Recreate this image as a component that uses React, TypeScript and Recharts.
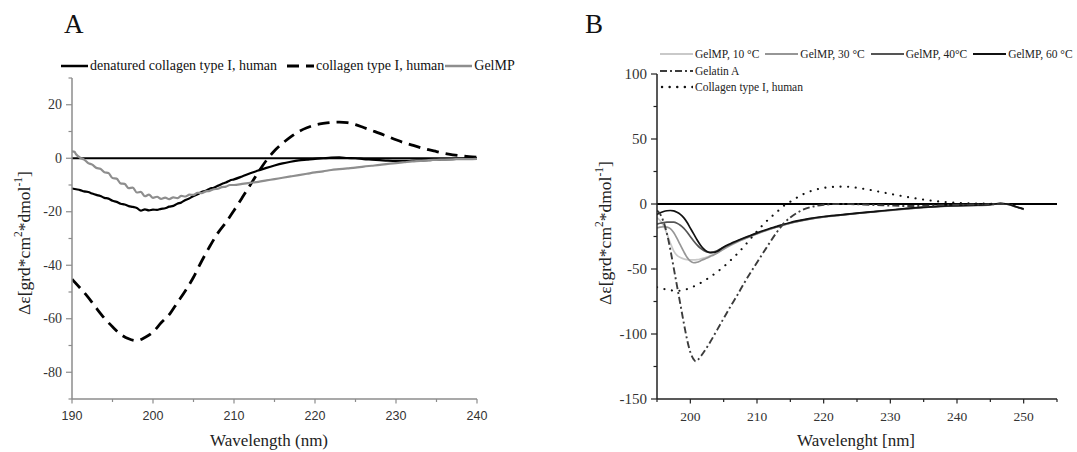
import React from 'react';
import { LineChart, Line, XAxis, YAxis, ReferenceLine, Legend, Label } from 'recharts';

const SERIF = "'Liberation Serif', 'Times New Roman', serif";
const SANS = "'Liberation Sans', Arial, sans-serif";

// ---------------- Panel A ----------------
const A_X_TICKS = [190, 195, 200, 205, 210, 215, 220, 225, 230, 235, 240];
const A_X_LABELS = [190, 200, 210, 220, 230, 240];
const A_Y_TICKS = [-90, -80, -70, -60, -50, -40, -30, -20, -10, 0, 10, 20, 30];
const A_Y_LABELS = [-80, -60, -40, -20, 0, 20];

const A_DENATURED: [number, number][] = [
  [190, -11.3], [190.5, -11.6], [191, -11.9], [191.5, -12.4], [192, -12.6], [192.5, -13.2], [193, -13.7],
  [193.5, -14.1], [194, -14.8], [194.5, -15.1], [195, -15.9], [195.5, -16.3], [196, -17.0], [196.5, -17.3],
  [197, -17.9], [197.5, -18.2], [198, -18.6], [198.5, -19.6], [199, -19.1], [199.5, -19.5], [200, -19.2],
  [200.5, -19.3], [201, -18.9], [201.5, -18.7], [202, -18.1], [202.5, -17.8], [203, -17.0], [203.5, -16.5],
  [204, -15.6], [204.5, -15.0], [205, -14.1], [205.5, -13.5], [206, -12.6], [206.5, -12.2], [207, -11.4],
  [207.5, -11.0], [208, -10.3], [208.5, -9.6], [209, -9.1], [209.5, -8.3], [210, -7.9], [211, -6.8],
  [212, -5.6], [213, -4.6], [214, -3.6], [215, -2.7], [216, -1.9], [217, -1.3], [218, -0.8], [219, -0.5],
  [220, -0.2], [221, 0], [222, 0.2], [223, 0.3], [224, 0.1], [225, 0], [226, -0.3], [227, -0.5], [228, -0.7],
  [229, -0.9], [230, -1.0], [231, -1.0], [232, -0.9], [233, -0.8], [234, -0.7], [235, -0.5], [236, -0.4],
  [237, -0.3], [238, -0.2], [239, -0.1], [240, 0],
];

const A_COLLAGEN: [number, number][] = [
  [190, -45.2], [191, -48.5], [192, -52], [193, -56], [194, -59.8], [195, -63], [196, -65.8], [197, -67.5],
  [198, -68.2], [199, -67], [200, -65], [201, -61.5], [202, -58.5], [203, -54], [204, -49.5], [205, -44.5],
  [206, -38.5], [207, -33], [208, -28], [209, -24], [210, -19.5], [211, -14.8], [212, -10], [213, -5.2],
  [214, -0.8], [215, 2.8], [216, 5.6], [217, 8], [218, 10], [219, 11.4], [220, 12.4], [221, 13], [222, 13.4],
  [223, 13.5], [224, 13.3], [225, 12.6], [226, 11.5], [227, 10.4], [228, 9.3], [229, 8.1], [230, 6.9],
  [231, 5.8], [232, 4.9], [233, 4], [234, 3.2], [235, 2.5], [236, 1.8], [237, 1.3], [238, 0.9], [239, 0.6],
  [240, 0.4],
];

const A_GELMP: [number, number][] = [
  [190, 2.6], [190.3, 2.4], [190.5, 1.5], [191, 0.2], [191.5, -0.5], [192, -1.8], [192.5, -2.4], [193, -3.6],
  [193.5, -3.9], [194, -5.2], [194.5, -5.5], [195, -7.4], [195.5, -7.6], [196, -9.4], [196.5, -9.6],
  [197, -11.2], [197.5, -11.0], [198, -12.8], [198.5, -12.6], [199, -14.2], [199.5, -13.6], [200, -14.8],
  [200.5, -14.4], [201, -15.2], [201.5, -14.7], [202, -15.3], [202.5, -14.6], [203, -14.9], [203.5, -14.1],
  [204, -14.3], [204.5, -13.6], [205, -13.7], [205.5, -12.9], [206, -13.0], [206.5, -12.4], [207, -12.2],
  [207.5, -11.6], [208, -11.4], [208.5, -10.8], [209, -10.6], [209.5, -10.0], [210, -10.0], [211, -9.6],
  [212, -9.2], [213, -8.8], [214, -8.3], [215, -7.8], [216, -7.3], [217, -6.8], [218, -6.3], [219, -5.8],
  [220, -5.3], [221, -4.9], [222, -4.4], [223, -4.1], [224, -3.8], [225, -3.5], [226, -3.1], [227, -2.8],
  [228, -2.5], [229, -2.1], [230, -1.8], [231, -1.5], [232, -1.2], [233, -1.0], [234, -0.7], [235, -0.6],
  [236, -0.5], [237, -0.4], [238, -0.3], [239, -0.3], [240, -0.2],
];

const A_NAMES = ['denatured collagen type I, human', 'collagen type I, human', 'GelMP'];

// ---------------- Panel B ----------------
const B_X_TICKS = [195, 200, 205, 210, 215, 220, 225, 230, 235, 240, 245, 250, 255];
const B_X_LABELS = [200, 210, 220, 230, 240, 250];
const B_Y_TICKS = [-150, -125, -100, -75, -50, -25, 0, 25, 50, 75, 100];
const B_Y_LABELS = [-150, -100, -50, 0, 50, 100];

const B_GELMP_10: [number, number][] = [
  [195, -10.5], [195.5, -13], [196, -17], [196.5, -23], [197, -30], [197.5, -36], [198, -39.5], [198.5, -41.2],
  [199, -42.2], [199.5, -42.8], [200, -43], [200.5, -43], [201, -42.8], [201.5, -42.3], [202, -41.6],
  [202.5, -40.8], [203, -39.8], [203.5, -38.8], [204, -37.6], [205, -34.8], [206, -32], [207, -29.4],
  [208, -27.1], [209, -25], [210, -23], [211, -21.1], [212, -19.3], [213, -17.7], [214, -16.2], [215, -14.8],
  [216, -13.6], [218, -11.6], [220, -10.1], [222.5, -8.6], [225, -7.3], [227.5, -6.1], [230, -4.9],
  [232.5, -3.7], [235, -2.7], [237.5, -1.9], [240, -1.4], [242.5, -1.1], [245, -0.6], [246.5, 0.3],
  [247.5, -0.2], [248.5, -1.6], [249.3, -3], [250, -4.1],
];

const B_GELMP_30: [number, number][] = [
  [195, -18.5], [195.5, -17.8], [196, -17.5], [196.5, -17.8], [197, -19], [197.5, -22], [198, -26.5],
  [198.5, -31.5], [199, -36.5], [199.5, -41], [200, -44], [200.5, -45.2], [201, -44.8], [201.5, -43.8],
  [202, -42.6], [202.5, -41.5], [203, -40.3], [203.5, -39.2], [204, -37.8], [205, -34.6], [206, -31.8],
  [207, -29.2], [208, -27], [209, -24.9], [210, -22.9], [211, -21], [212, -19.2], [213, -17.6], [214, -16.1],
  [215, -14.7], [216, -13.5], [218, -11.5], [220, -10], [222.5, -8.6], [225, -7.3], [227.5, -6.1], [230, -4.9],
  [232.5, -3.7], [235, -2.7], [237.5, -1.9], [240, -1.4], [242.5, -1.1], [245, -0.6], [246.5, 0.3],
  [247.5, -0.2], [248.5, -1.6], [249.3, -3], [250, -4.1],
];

const B_GELMP_40: [number, number][] = [
  [195, -15.5], [195.5, -14.8], [196, -14.3], [196.5, -14], [197, -13.9], [197.5, -14], [198, -14.8],
  [198.5, -16.3], [199, -18.5], [199.5, -21.5], [200, -25], [200.5, -28.5], [201, -31.5], [201.5, -34],
  [202, -35.8], [202.5, -36.9], [203, -37.2], [203.5, -36.8], [204, -35.9], [205, -33.4], [206, -30.9],
  [207, -28.6], [208, -26.5], [209, -24.6], [210, -22.6], [211, -20.8], [212, -19], [213, -17.5], [214, -16],
  [215, -14.6], [216, -13.4], [218, -11.4], [220, -9.9], [222.5, -8.5], [225, -7.2], [227.5, -6], [230, -4.8],
  [232.5, -3.6], [235, -2.6], [237.5, -1.8], [240, -1.3], [242.5, -1], [245, -0.5], [246.5, 0.4],
  [247.5, -0.1], [248.5, -1.5], [249.3, -2.9], [250, -4],
];

const B_GELMP_60: [number, number][] = [
  [195, -8], [195.5, -6.8], [196, -5.8], [196.5, -5.2], [197, -5], [197.5, -5.3], [198, -6.4], [198.5, -8],
  [199, -10.5], [199.5, -14], [200, -18.5], [200.5, -23], [201, -27.5], [201.5, -31.5], [202, -34.5],
  [202.5, -36.5], [203, -37.4], [203.5, -37.3], [204, -36.6], [205, -33], [206, -30.5], [207, -28.3],
  [208, -26.2], [209, -24.2], [210, -22.2], [211, -20.4], [212, -18.7], [213, -17.2], [214, -15.6],
  [215, -14.2], [216, -13], [218, -11], [220, -9.6], [222.5, -8.3], [225, -7], [227.5, -5.8], [230, -4.6],
  [232.5, -3.4], [235, -2.4], [237.5, -1.6], [240, -1.2], [242.5, -0.9], [245, -0.4], [246.5, 0.5],
  [247.5, 0], [248.5, -1.4], [249.3, -2.8], [250, -3.8],
];

const B_GELATIN_A: [number, number][] = [
  [195, -5], [195.5, -8], [196, -14], [196.5, -23], [197, -35], [197.5, -49], [198, -63], [198.5, -77],
  [199, -91], [199.5, -104], [200, -114], [200.5, -119.5], [200.8, -121], [201.2, -119.5], [202, -114],
  [203, -106], [204, -97], [205, -88], [206, -79], [207, -70.5], [208, -61.5], [209, -53], [210, -45],
  [211, -37], [212, -29], [213, -21.5], [214, -15], [215, -10.3], [216, -6.8], [217, -4.2], [218, -2.5],
  [219, -1.3], [220, -0.6], [221, -0.2], [222.5, 0], [224, -0.1], [226, -0.4], [228, -0.8], [230, -1.2],
  [232, -1.5], [234, -1.5], [236, -1.2], [238, -0.9], [240, -0.6], [242, -0.4], [244, -0.3], [246, -0.1],
  [247, 0],
];

const B_COLLAGEN: [number, number][] = [
  [195, -64], [196, -65.3], [197, -66.3], [198, -66.8], [199, -66.2], [200, -64.5], [201, -62.2],
  [202, -59.3], [203, -56], [204, -52.3], [205, -48.2], [206, -43.5], [207, -38.5], [208, -33], [209, -27],
  [210, -21], [211, -15.5], [212, -10.5], [213, -6], [214, -1.5], [215, 1.8], [216, 5], [217, 7.7],
  [218, 9.8], [219, 11.3], [220, 12.4], [221, 13], [222, 13.3], [223, 13.4], [224, 13.1], [225, 12.5],
  [226, 11.7], [227, 10.8], [228, 9.8], [229, 8.8], [230, 7.8], [231, 6.8], [232, 5.9], [233, 5],
  [234, 4.2], [235, 3.4], [236, 2.7], [237, 2.1], [238, 1.6], [239, 1.2], [240, 0.9], [242, 0.5],
  [244, 0.3], [246, 0.2],
];

const B_NAMES = ['GelMP, 10 °C', 'GelMP, 30 °C', 'GelMP, 40°C', 'GelMP, 60 °C', 'Gelatin A', 'Collagen type I, human'];

// ---------------- helpers ----------------
const toPoints = (arr: [number, number][]) => arr.map(([x, y]) => ({ x, y }));

const TS = 6;
const TM = 4;

type SeriesStyle = { color: string; width: number; dash?: string; cap?: 'round' | 'butt' };

const A_STYLES: SeriesStyle[] = [
  { color: '#000000', width: 2.2 },
  { color: '#000000', width: 2.8, dash: '12 7' },
  { color: '#8e8e8e', width: 2.2 },
];

const B_STYLES: SeriesStyle[] = [
  { color: '#c9c9c9', width: 1.7 },
  { color: '#969696', width: 1.7 },
  { color: '#555555', width: 1.7 },
  { color: '#111111', width: 1.7 },
  { color: '#3c3c3c', width: 1.9, dash: '7 3 2 3' },
  { color: '#111111', width: 2.1, dash: '0.1 7.5', cap: 'round' },
];

const serifStyle = (size: number) => ({ fontFamily: SERIF, fontSize: size });

function YTick(props: any) {
  const { x, y, payload, labels, axisColor, fontSize, textColor } = props;
  const ax = x + TS + TM;
  const major = labels.includes(payload.value);
  return (
    <g>
      <line x1={ax - (major ? 6 : 3.5)} x2={ax} y1={y} y2={y} stroke={axisColor} strokeWidth={1.2} />
      {major && (
        <text x={ax - 10} y={y} textAnchor="end" dominantBaseline="central" style={serifStyle(fontSize)} fill={textColor}>
          {String(payload.value)}
        </text>
      )}
    </g>
  );
}

function XTick(props: any) {
  const { x, y, payload, labels, axisColor, fontSize, textColor, font } = props;
  const ay = y - TS - TM;
  const major = labels.includes(payload.value);
  return (
    <g>
      <line x1={x} x2={x} y1={ay} y2={ay + (major ? 4.5 : 3)} stroke={axisColor} strokeWidth={1.2} />
      {major && (
        <text x={x} y={ay + 17} textAnchor="middle" dominantBaseline="central" style={{ fontFamily: font, fontSize }} fill={textColor}>
          {String(payload.value)}
        </text>
      )}
    </g>
  );
}

function YTitle({ cx, cy }: { cx: number; cy: number }) {
  return (
    <text
      x={cx}
      y={cy}
      transform={`rotate(-90 ${cx} ${cy})`}
      textAnchor="middle"
      dominantBaseline="central"
      style={serifStyle(17.5)}
      fill="#222"
    >
      Δε[grd*cm
      <tspan dy={-6} style={{ fontSize: 11.5 }}>2</tspan>
      <tspan dy={6}>*dmol</tspan>
      <tspan dy={-6} style={{ fontSize: 11.5 }}>-1</tspan>
      <tspan dy={6}>]</tspan>
    </text>
  );
}

function XTitle({ cx, cy, text }: { cx: number; cy: number; text: string }) {
  return (
    <text x={cx} y={cy} textAnchor="middle" dominantBaseline="central" style={serifStyle(17)} fill="#222">
      {text}
    </text>
  );
}

function LegendIcon({ s, w }: { s: SeriesStyle; w: number }) {
  return (
    <svg width={w} height={8} style={{ display: 'block' }}>
      <line
        x1={s.cap === 'round' ? 2 : 0}
        x2={w}
        y1={4}
        y2={4}
        stroke={s.color}
        strokeWidth={s.width + 0.3}
        strokeDasharray={s.dash}
        strokeLinecap={s.cap || 'butt'}
      />
    </svg>
  );
}

function LegendItem({ s, name, w, gap }: { s: SeriesStyle; name: string; w: number; gap: number }) {
  return (
    <span style={{ display: 'inline-flex', alignItems: 'center', marginRight: gap }}>
      <LegendIcon s={s} w={w} />
      <span style={{ marginLeft: 2 }}>{name}</span>
    </span>
  );
}

function LegendA() {
  return (
    <div style={{ display: 'flex', alignItems: 'center', fontFamily: SERIF, fontSize: 14, color: '#111', whiteSpace: 'nowrap', lineHeight: '18px' }}>
      {A_NAMES.map((n, i) => (
        <LegendItem key={n} s={A_STYLES[i]} name={n} w={27} gap={i === 0 ? 10 : 1} />
      ))}
    </div>
  );
}

function LegendB() {
  return (
    <div style={{ fontFamily: SERIF, fontSize: 11.5, color: '#222', whiteSpace: 'nowrap', lineHeight: '16.5px' }}>
      <div style={{ display: 'flex', alignItems: 'center' }}>
        {B_NAMES.slice(0, 4).map((n, i) => (
          <LegendItem key={n} s={B_STYLES[i]} name={n} w={33} gap={6} />
        ))}
      </div>
      <div style={{ display: 'flex', alignItems: 'center' }}>
        <LegendItem s={B_STYLES[4]} name={B_NAMES[4]} w={33} gap={0} />
      </div>
      <div style={{ display: 'flex', alignItems: 'center' }}>
        <LegendItem s={B_STYLES[5]} name={B_NAMES[5]} w={33} gap={0} />
      </div>
    </div>
  );
}

function PanelA() {
  const series = [A_DENATURED, A_COLLAGEN, A_GELMP];
  const axisColor = '#8c8c8c';
  return (
    <LineChart width={540} height={452} margin={{ top: 78, right: 63, bottom: 23, left: 0 }}>
      <XAxis
        type="number"
        dataKey="x"
        domain={[190, 240]}
        ticks={A_X_TICKS}
        interval={0}
        allowDataOverflow
        height={30}
        tickSize={TS}
        tickMargin={TM}
        tickLine={false}
        axisLine={{ stroke: axisColor, strokeWidth: 1.5 }}
        tick={<XTick labels={A_X_LABELS} axisColor={axisColor} fontSize={12.5} textColor="#333" font={SANS} />}
      >
        <Label content={() => <XTitle cx={269} cy={440} text="Wavelength (nm)" />} />
      </XAxis>
      <YAxis
        type="number"
        dataKey="y"
        domain={[-90, 30]}
        ticks={A_Y_TICKS}
        interval={0}
        allowDataOverflow
        width={72}
        tickSize={TS}
        tickMargin={TM}
        tickLine={false}
        axisLine={{ stroke: axisColor, strokeWidth: 1.5 }}
        tick={<YTick labels={A_Y_LABELS} axisColor={axisColor} fontSize={14} textColor="#333" />}
      >
        <Label content={() => <YTitle cx={24} cy={243} />} />
      </YAxis>
      <ReferenceLine y={0} stroke="#000" strokeWidth={2} ifOverflow="hidden" />
      {series.map((d, i) => (
        <Line
          key={A_NAMES[i]}
          name={A_NAMES[i]}
          data={toPoints(d)}
          dataKey="y"
          type="monotone"
          stroke={A_STYLES[i].color}
          strokeWidth={A_STYLES[i].width}
          strokeDasharray={A_STYLES[i].dash}
          dot={false}
          activeDot={false}
          isAnimationActive={false}
        />
      ))}
      <Legend
        layout="horizontal"
        verticalAlign="middle"
        align="center"
        wrapperStyle={{ top: 57, left: 61, width: 470, height: 20 }}
        content={() => <LegendA />}
      />
    </LineChart>
  );
}

function PanelB() {
  const series = [B_GELMP_10, B_GELMP_30, B_GELMP_40, B_GELMP_60, B_GELATIN_A, B_COLLAGEN];
  const axisColor = '#222';
  return (
    <LineChart width={537} height={452} margin={{ top: 74, right: 20, bottom: 23, left: 0 }}>
      <XAxis
        type="number"
        dataKey="x"
        domain={[195, 255]}
        ticks={B_X_TICKS}
        interval={0}
        allowDataOverflow
        height={30}
        tickSize={TS}
        tickMargin={TM}
        tickLine={false}
        axisLine={{ stroke: axisColor, strokeWidth: 1.5 }}
        tick={<XTick labels={B_X_LABELS} axisColor={axisColor} fontSize={13.5} textColor="#333" font={SERIF} />}
      >
        <Label content={() => <XTitle cx={316} cy={440} text="Wavelenght [nm]" />} />
      </XAxis>
      <YAxis
        type="number"
        dataKey="y"
        domain={[-150, 100]}
        ticks={B_Y_TICKS}
        interval={0}
        allowDataOverflow
        width={117}
        tickSize={TS}
        tickMargin={TM}
        tickLine={false}
        axisLine={{ stroke: axisColor, strokeWidth: 1.5 }}
        tick={<YTick labels={B_Y_LABELS} axisColor={axisColor} fontSize={15} textColor="#333" />}
      >
        <Label content={() => <YTitle cx={65} cy={233} />} />
      </YAxis>
      <ReferenceLine y={0} stroke="#000" strokeWidth={2} ifOverflow="hidden" />
      {series.map((d, i) => (
        <Line
          key={B_NAMES[i]}
          name={B_NAMES[i]}
          data={toPoints(d)}
          dataKey="y"
          type="monotone"
          stroke={B_STYLES[i].color}
          strokeWidth={B_STYLES[i].width}
          strokeDasharray={B_STYLES[i].dash}
          strokeLinecap={B_STYLES[i].cap || 'butt'}
          dot={false}
          activeDot={false}
          isAnimationActive={false}
        />
      ))}
      <Legend
        layout="horizontal"
        verticalAlign="middle"
        align="center"
        wrapperStyle={{ top: 46, left: 120, width: 417, height: 50 }}
        content={() => <LegendB />}
      />
    </LineChart>
  );
}

export default function App() {
  return (
    <div style={{ position: 'absolute', left: 0, top: 0, width: 1077, height: 452, background: '#fff', overflow: 'hidden' }}>
      <div style={{ position: 'absolute', left: 0, top: 0 }}>
        <PanelA />
      </div>
      <div style={{ position: 'absolute', left: 540, top: 0 }}>
        <PanelB />
      </div>
      <svg width={1077} height={60} style={{ position: 'absolute', left: 0, top: 0, pointerEvents: 'none' }}>
        <text x={64} y={33} style={serifStyle(27)} fill="#111">A</text>
        <text x={585} y={33} style={serifStyle(27)} fill="#111">B</text>
      </svg>
    </div>
  );
}
